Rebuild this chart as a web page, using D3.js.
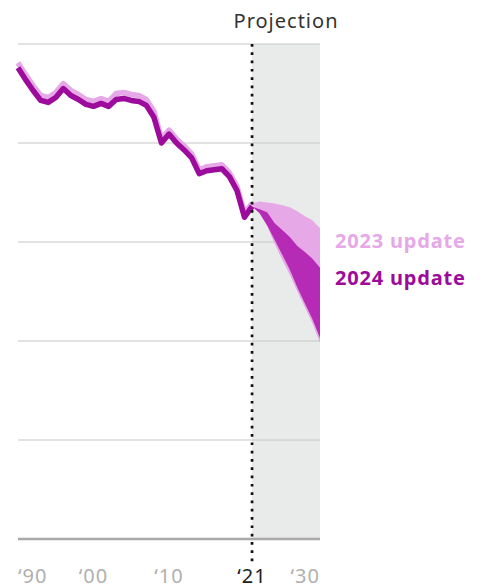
<!DOCTYPE html>
<html>
<head>
<meta charset="utf-8">
<script src="https://cdn.jsdelivr.net/npm/d3@7"></script>
<style>
	body { margin: 0; background: #fff; }
	svg text { font-family: "Noto Sans", sans-serif; }
</style>
</head>
<body>
<div id="chart"></div>
<script>
'use strict'
// historical series, 1990-2021
var years = d3.range(1990, 2022);
var update2024 = [47.6,46.4,45.3,44.3,44.1,44.6,45.5,44.8,44.4,43.9,43.7,44.0,43.7,44.4,44.5,44.3,44.2,43.8,42.6,40.0,40.9,40.0,39.3,38.5,36.9,37.2,37.3,37.4,36.6,35.2,32.5,33.6];
var update2023 = [48.1,46.9,45.8,44.8,44.6,45.1,46.0,45.3,44.9,44.4,44.2,44.5,44.2,45.0,45.1,44.9,44.8,44.4,43.2,40.4,41.3,40.4,39.7,38.9,37.3,37.6,37.7,37.8,37.0,35.6,32.9,33.9];

// projection ranges, 2021-2030
var projYears = d3.range(2021, 2031);
var proj2023High = [33.9,34.1,34.0,33.9,33.7,33.5,33.1,32.6,32.2,31.4];
var proj2023Low = [33.9,32.9,31.6,29.8,28.2,26.7,25.0,23.4,21.8,19.8];
var proj2024High = [33.6,33.3,33.0,31.9,31.2,30.5,29.6,29.0,28.3,27.4];
var proj2024Low = [33.6,32.9,31.7,30.2,28.7,27.2,25.4,23.8,22.2,20.3];

var yTicks = [0, 10, 20, 30, 40, 50];
var xTicks = [1990, 2000, 2010, 2021, 2030];
var xTickLabels = ["\u201890", "\u201800", "\u201810", "\u201821", "\u201830"];
var projectionStart = 2021;

var colLight = "#e6a8e6", colDark = "#9c0b9c", colBand = "#b52bb5";

var W = 486, H = 588;
var x = d3.scaleLinear().domain([1990, 2030]).range([18, 320]);
var y = d3.scaleLinear().domain([0, 50]).range([539, 44]);

var svg = d3.select("#chart").append("svg").attr("width", W).attr("height", H);

// projection shading
svg.append("rect")
	.attr("x", x(projectionStart)).attr("y", y(50))
	.attr("width", x(2030) - x(projectionStart)).attr("height", y(0) - y(50))
	.style("fill", "#e9ebea");

// gridlines
svg.append("g").selectAll("line").data(yTicks).enter().append("line")
	.attr("x1", x(1990)).attr("x2", x(2030))
	.attr("y1", function(d){ return y(d); }).attr("y2", function(d){ return y(d); })
	.style("stroke", function(d){ return d === 0 ? "#a9a9a9" : "#c6c6c6"; })
	.style("stroke-width", function(d){ return d === 0 ? 2.5 : 1; });

var band = function(hi, lo){
	return d3.area()
		.x(function(d, i){ return x(projYears[i]); })
		.y0(function(d, i){ return y(lo[i]); })
		.y1(function(d, i){ return y(hi[i]); });
};
svg.append("path").datum(projYears).attr("d", band(proj2023High, proj2023Low)).style("fill", colLight);
svg.append("path").datum(projYears).attr("d", band(proj2024High, proj2024Low)).style("fill", colBand);

var line = function(vals){
	return d3.line()
		.x(function(d, i){ return x(years[i]); })
		.y(function(d, i){ return y(vals[i]); })(years);
};
svg.append("path").attr("d", line(update2023))
	.style("fill", "none").style("stroke", colLight).style("stroke-width", 5.5)
	.style("stroke-linejoin", "round");
svg.append("path").attr("d", line(update2024))
	.style("fill", "none").style("stroke", colDark).style("stroke-width", 5.5)
	.style("stroke-linejoin", "round");

// projection divider
svg.append("line")
	.attr("x1", x(projectionStart)).attr("x2", x(projectionStart))
	.attr("y1", y(50)).attr("y2", 563)
	.style("stroke", "#111").style("stroke-width", 2.7)
	.style("stroke-dasharray", "2.7,5.6");

svg.append("text")
	.attr("x", (x(projectionStart) + x(2030)) / 2).attr("y", 28)
	.attr("text-anchor", "middle")
	.style("font-size", "20px").style("letter-spacing", "1px").style("fill", "#333")
	.text("Projection");

// x axis labels
svg.append("g").selectAll("text").data(xTicks).enter().append("text")
	.attr("x", function(d){ return x(d); })
	.attr("y", 583)
	.attr("text-anchor", function(d, i){ return i === 0 ? "start" : (i === xTicks.length - 1 ? "end" : "middle"); })
	.style("font-size", "20px").style("letter-spacing", "1px")
	.style("fill", function(d){ return d === projectionStart ? "#222" : "#b0b0b0"; })
	.text(function(d, i){ return xTickLabels[i]; });

// series labels
svg.append("text").attr("x", 335).attr("y", 248)
	.style("font-size", "20px").style("letter-spacing", "0.8px").style("font-weight", "bold").style("fill", colLight)
	.text("2023 update");
svg.append("text").attr("x", 335).attr("y", 285)
	.style("font-size", "20px").style("letter-spacing", "0.8px").style("font-weight", "bold").style("fill", colDark)
	.text("2024 update");
</script>
</body>
</html>
